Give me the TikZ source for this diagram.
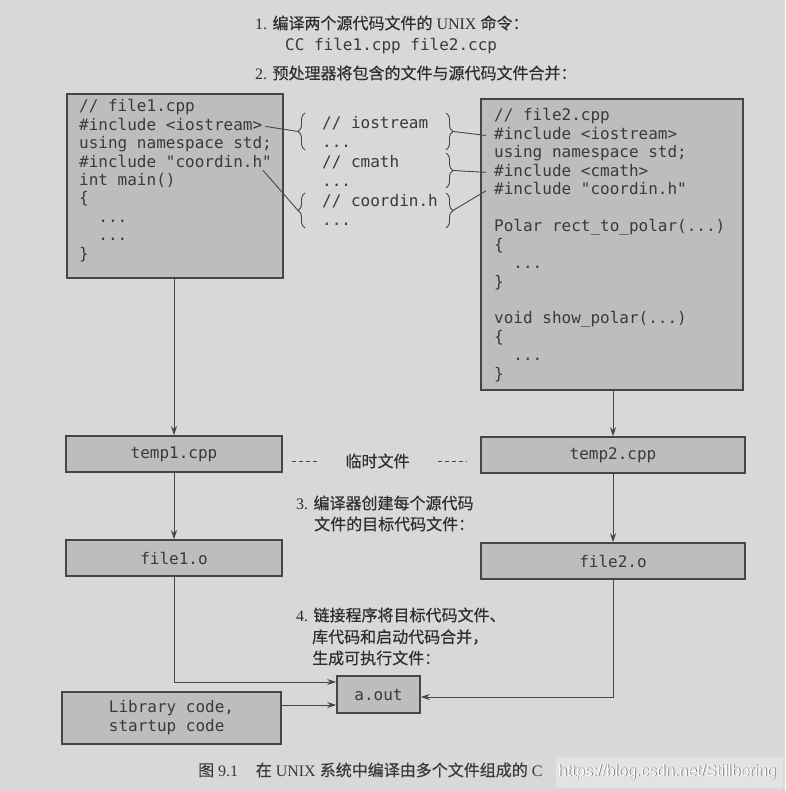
\documentclass[tikz,border=0pt]{standalone}
\usepackage{fontspec}
\setmainfont{Liberation Serif}
\setmonofont{DejaVu Sans Mono}
\newfontfamily\cjk{Noto Sans CJK SC}[FakeBold=0.4]
\newfontfamily\wmfont{Liberation Sans}
\usetikzlibrary{arrows.meta,positioning,decorations.pathreplacing}

\definecolor{pagebg}{RGB}{216,216,217}
\definecolor{boxfill}{RGB}{189,189,191}
\definecolor{ink}{RGB}{58,58,60}
\definecolor{edge}{RGB}{70,70,72}

\begin{document}
\begin{tikzpicture}[x=1pt, y=-1pt,
    box/.style={draw=edge, line width=1.6pt, fill=boxfill, inner sep=0pt, text=ink, font=\ttfamily\fontsize{16}{19}\selectfont},
    code/.style={anchor=west, inner sep=0pt, text height=11pt, text depth=3pt, text=ink, font=\ttfamily\fontsize{16}{18}\selectfont},
    note/.style={anchor=west, inner sep=0pt, text=ink!80!black, font=\fontsize{16}{18}\selectfont},
    link/.style={draw=edge, line width=0.9pt},
    arr/.style={link, -{Stealth[length=9pt,width=6pt]}},
    brc/.style={link, decorate, decoration={brace, amplitude=7pt}}
  ]
    \fill[pagebg] (0,0) rectangle (785,791);
    \useasboundingbox (0,0) rectangle (785,791);

    \node[note] (step1) at (255,23) {1. {\cjk 编译两个源代码文件的} UNIX {\cjk 命令：}};
    \node[code] (cmd) at (285,47) {CC file1.cpp file2.ccp};
    \node[note] (step2) at (255,73) {2. {\cjk 预处理器将包含的文件与源代码文件合并：}};

    \node[box, minimum width=216pt, minimum height=184pt] (src1) at (175,186) {};
    \node[code] (f1-0) at (79,108) {// file1.cpp};
    \node[code] (f1-1) at (79,126.4) {\#include <iostream>};
    \node[code] (f1-2) at (79,144.8) {using namespace std;};
    \node[code] (f1-3) at (79,163.2) {\#include "coordin.h"};
    \node[code] (f1-4) at (79,181.6) {int main()};
    \node[code] (f1-5) at (79,200) {\{};
    \node[code] (f1-6) at (79,218.4) {~~...};
    \node[code] (f1-7) at (79,236.8) {~~...};
    \node[code] (f1-8) at (79,255.2) {\}};

    \node[code] (m-0) at (322,124.5) {// iostream};
    \node[code] (m-1) at (322,144) {...};
    \node[code] (m-2) at (322,163.5) {// cmath};
    \node[code] (m-3) at (322,183) {...};
    \node[code] (m-4) at (322,202.5) {// coordin.h};
    \node[code] (m-5) at (322,222) {...};

    \node[box, minimum width=262pt, minimum height=291pt] (src2) at (612,244.5) {};
    \node[code] (f2-0) at (494,117) {// file2.cpp};
    \node[code] (f2-1) at (494,135.45) {\#include <iostream>};
    \node[code] (f2-2) at (494,153.9) {using namespace std;};
    \node[code] (f2-3) at (494,172.35) {\#include <cmath>};
    \node[code] (f2-4) at (494,190.8) {\#include "coordin.h"};
    \node[code] (f2-6) at (494,227.7) {Polar rect\_to\_polar(...)};
    \node[code] (f2-7) at (494,246.15) {\{};
    \node[code] (f2-8) at (494,264.6) {~~...};
    \node[code] (f2-9) at (494,283.05) {\}};
    \node[code] (f2-11) at (494,319.95) {void show\_polar(...)};
    \node[code] (f2-12) at (494,338.4) {\{};
    \node[code] (f2-13) at (494,356.85) {~~...};
    \node[code] (f2-14) at (494,375.3) {\}};

    \coordinate (tipL1) at (298,131.5);
    \coordinate (tipL2) at (298,210.5);
    \coordinate (tipR1) at (453,131.5);
    \coordinate (tipR2) at (453,170.5);
    \coordinate (tipR3) at (453,210.5);
    \draw[brc] (305,150) -- (305,113);
    \draw[brc] (305,228) -- (305,193);
    \draw[brc] (446,113) -- (446,150);
    \draw[brc] (446,153) -- (446,188);
    \draw[brc] (446,193) -- (446,228);
    \draw[link] ([xshift=3pt]f1-1.east) -- (tipL1);
    \draw[link] ([xshift=-9pt]f1-3.south east) -- (tipL2);
    \draw[link] (tipR1) -- ([xshift=-8pt]f2-1.west);
    \draw[link] (tipR2) -- ([xshift=-8pt]f2-3.west);
    \draw[link] (tipR3) -- ([xshift=-8pt]f2-4.west);

    \node[box, minimum width=216pt, minimum height=36pt] (tmp1) at (174,454) {temp1.cpp};
    \node[box, minimum width=264pt, minimum height=36pt] (tmp2) at (613,455) {temp2.cpp};
    \node[note, anchor=center] (tmplbl) at (377.5,461) {\cjk 临时文件};
    \draw[link, dash pattern=on 4pt off 3pt] ([xshift=-53pt]tmplbl.west) -- ([xshift=-27pt]tmplbl.west);
    \draw[link, dash pattern=on 4pt off 3pt] ([xshift=28pt]tmplbl.east) -- ([xshift=57pt]tmplbl.east);

    \node[note] (step3a) at (296,503) {3. {\cjk 编译器创建每个源代码}};
    \node[note] (step3b) at (314,524) {\cjk 文件的目标代码文件：};

    \node[box, minimum width=216pt, minimum height=36pt] (obj1) at (174,558) {file1.o};
    \node[box, minimum width=264pt, minimum height=36pt] (obj2) at (613,561) {file2.o};

    \node[note] (step4a) at (296,615) {4. {\cjk 链接程序将目标代码文件、}};
    \node[note] (step4b) at (312,637) {\cjk 库代码和启动代码合并，};
    \node[note] (step4c) at (312,658) {\cjk 生成可执行文件：};

    \node[box, minimum width=83pt, minimum height=37pt] (aout) at (378.5,694.5) {a.out};
    \node[box, minimum width=219pt, minimum height=52pt, align=left] (lib) at (171.5,718) {Library code,\\startup code};

    \draw[arr] (src1.south -| tmp1.north) -- (tmp1.north);
    \draw[arr] (src2.south -| tmp2.north) -- (tmp2.north);
    \draw[arr] (tmp1.south) -- (obj1.north);
    \draw[arr] (tmp2.south) -- (obj2.north);
    \draw[arr] (obj1.south) |- ([yshift=12.5pt]aout.west);
    \draw[arr] (obj2.south) |- ([yshift=-2.5pt]aout.east);
    \draw[arr] ([yshift=13pt]lib.east) -- ([yshift=-10.5pt]aout.west);

    \node[anchor=west, inner sep=0pt, text=ink, font=\fontsize{16}{18}\selectfont] (cap) at (198,770) {{\cjk 图} 9.1\hspace{1.1em}{\cjk 在} UNIX {\cjk 系统中编译由多个文件组成的} C};
    \fill[white, opacity=0.3] (556,757) rectangle (783,788);
    \node[anchor=west, inner sep=0pt, text=black!60, font=\wmfont\fontsize{16}{18}\selectfont] (wmsh) at (558.7,772.7) {https://blog.csdn.net/Stillboring};
    \node[anchor=west, inner sep=0pt, text=white, font=\wmfont\fontsize{16}{18}\selectfont] (wm) at (558,772) {https://blog.csdn.net/Stillboring};
  \end{tikzpicture}
\end{document}
